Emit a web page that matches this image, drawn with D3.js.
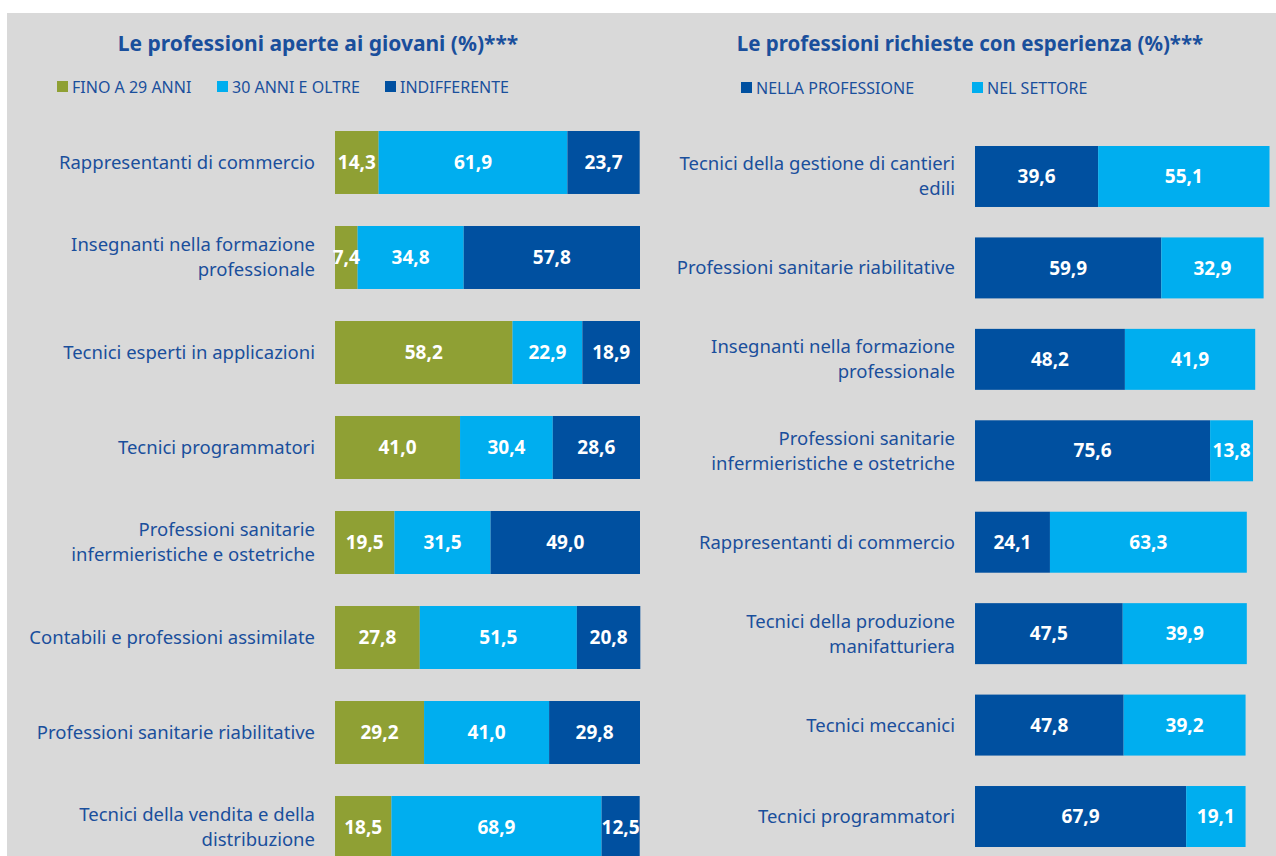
<!DOCTYPE html>
<html>
<head>
<meta charset="utf-8">
<title>Professioni</title>
<script src="https://d3js.org/d3.v7.min.js"></script>
<style>
  body { margin: 0; background: #fff; }
  svg { display: block; }
  text { font-family: "Noto Sans", "Open Sans", sans-serif; }
</style>
</head>
<body>
<div id="chart"></div>
<script>
// ---- data: left chart (age) ----
var ageTitle = "Le professioni aperte ai giovani (%)***";
var ageSeries = ["FINO A 29 ANNI", "30 ANNI E OLTRE", "INDIFFERENTE"];
var ageCats = [
  ["Rappresentanti di commercio"],
  ["Insegnanti nella formazione", "professionale"],
  ["Tecnici esperti in applicazioni"],
  ["Tecnici programmatori"],
  ["Professioni sanitarie", "infermieristiche e ostetriche"],
  ["Contabili e professioni assimilate"],
  ["Professioni sanitarie riabilitative"],
  ["Tecnici della vendita e della", "distribuzione"]
];
var fino29 = [14.3, 7.4, 58.2, 41.0, 19.5, 27.8, 29.2, 18.5];
var oltre30 = [61.9, 34.8, 22.9, 30.4, 31.5, 51.5, 41.0, 68.9];
var indiff = [23.7, 57.8, 18.9, 28.6, 49.0, 20.8, 29.8, 12.5];

// ---- data: right chart (experience) ----
var expTitle = "Le professioni richieste con esperienza (%)***";
var expSeries = ["NELLA PROFESSIONE", "NEL SETTORE"];
var expCats = [
  ["Tecnici della gestione di cantieri", "edili"],
  ["Professioni sanitarie riabilitative"],
  ["Insegnanti nella formazione", "professionale"],
  ["Professioni sanitarie", "infermieristiche e ostetriche"],
  ["Rappresentanti di commercio"],
  ["Tecnici della produzione", "manifatturiera"],
  ["Tecnici meccanici"],
  ["Tecnici programmatori"]
];
var nellaProf = [39.6, 59.9, 48.2, 75.6, 24.1, 47.5, 47.8, 67.9];
var nelSettore = [55.1, 32.9, 41.9, 13.8, 63.3, 39.9, 39.2, 19.1];

var green = "#8fa034", cyan = "#00aeef", navy = "#0050a0", txt = "#1a4f9c";

var W = 1276, H = 856;
var svg = d3.select("#chart").append("svg")
  .attr("width", W).attr("height", H);

// gray panel
svg.append("rect").attr("x", 7).attr("y", 13).attr("width", W - 7).attr("height", H - 13)
  .attr("fill", "#d9d9d9");

function drawChart(opt) {
  var g = svg.append("g");
  var rows = opt.cats.map(function(c, i) {
    var r = { key: "c" + i, lines: c, segs: [] };
    var x0 = 0;
    opt.values.forEach(function(arr, k) {
      r.segs.push({ k: k, x0: x0, x1: x0 + arr[i], v: arr[i], key: "c" + i });
      x0 += arr[i];
    });
    return r;
  });

  var x = d3.scaleLinear().domain([0, 100]).range([opt.left, opt.left + opt.width]);
  var y = d3.scaleBand().domain(rows.map(function(r) { return r.key; }))
    .range([opt.top, opt.bottom]).paddingInner(opt.pad).paddingOuter(0);

  // title
  g.append("text").attr("x", opt.titleX).attr("y", 51)
    .attr("text-anchor", "middle").attr("font-weight", "bold")
    .attr("font-size", opt.titleSize).attr("fill", txt).text(opt.title);

  // legend
  var lg = g.selectAll(".leg").data(opt.series).enter().append("g")
    .attr("transform", function(d, i) { return "translate(" + opt.legX[i] + ",0)"; });
  lg.append("rect").attr("x", 0).attr("y", opt.legY - 6).attr("width", 11).attr("height", 11)
    .attr("fill", function(d, i) { return opt.colors[i]; });
  lg.append("text").attr("x", 15).attr("y", opt.legY + 6)
    .attr("font-size", 16).attr("fill", txt).text(function(d) { return d; });

  var row = g.selectAll(".row").data(rows).enter().append("g");

  row.selectAll("rect").data(function(r) { return r.segs; })
    .enter().append("rect")
    .attr("x", function(s) { return x(s.x0); })
    .attr("width", function(s) { return x(s.x1) - x(s.x0); })
    .attr("y", function(s) { return y(s.key); })
    .attr("height", y.bandwidth())
    .attr("fill", function(s) { return opt.colors[s.k]; });

  row.selectAll(".val").data(function(r) { return r.segs; })
    .enter().append("text")
    .attr("x", function(s) { return (x(s.x0) + x(s.x1)) / 2; })
    .attr("y", function(s) { return y(s.key) + y.bandwidth() / 2; })
    .attr("dy", "0.35em").attr("text-anchor", "middle")
    .attr("font-size", 19).attr("font-weight", "bold").attr("fill", "#fff")
    .text(function(s) { return d3.format(".1f")(s.v).replace(".", ","); });

  row.append("text")
    .attr("text-anchor", "end").attr("font-size", 18.5).attr("fill", txt)
    .attr("transform", function(r) { return "translate(" + (opt.left - 20) + "," + (y(r.key) + y.bandwidth() / 2) + ")"; })
    .selectAll("tspan").data(function(r) { return r.lines.map(function(l, i) { return { l: l, i: i, n: r.lines.length }; }); })
    .enter().append("tspan")
    .attr("x", 0)
    .attr("y", function(d) { return (d.i - (d.n - 1) / 2) * 25; })
    .attr("dy", "0.35em")
    .text(function(d) { return d.l; });
}

drawChart({
  title: ageTitle, titleX: 318, titleSize: 21, series: ageSeries, cats: ageCats,
  values: [fino29, oltre30, indiff], colors: [green, cyan, navy],
  left: 335, width: 305, top: 131, bottom: 859, pad: 0.337,
  legX: [57, 217, 385], legY: 87
});

drawChart({
  title: expTitle, titleX: 970, titleSize: 20.5, series: expSeries, cats: expCats,
  values: [nellaProf, nelSettore], colors: [navy, cyan],
  left: 975, width: 311, top: 146, bottom: 847, pad: 0.333,
  legX: [741, 972], legY: 88
});
</script>
</body>
</html>
